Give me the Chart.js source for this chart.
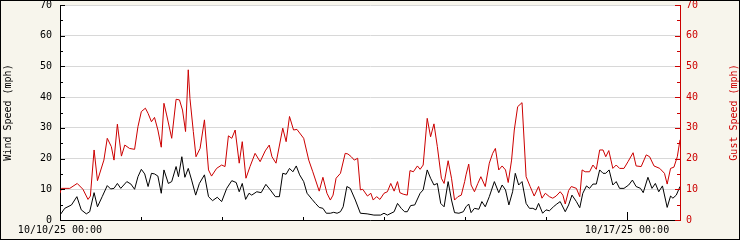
<!DOCTYPE html>
<html>
<head>
<meta charset="utf-8">
<script src="https://cdn.jsdelivr.net/npm/chart.js@4.4.0/dist/chart.umd.min.js"></script>
<style>
  html, body { margin: 0; padding: 0; background: #f7f5ec; }
</style>
</head>
<body>
<canvas id="myChart" width="740" height="240"></canvas>
<script>
// hours since 10/10/25 00:00
const windHours = [0, 1.4, 3.4, 5.0, 6.3, 7.8, 8.8, 10.1, 11.1, 12.5, 14.0, 15.0, 16.0, 17.0, 18.0, 19.8, 21.0, 22.1, 23.1, 24.1,
  25.1, 26.1, 27.1, 28.0, 29.0, 30.0, 30.8, 32.1, 33.1, 34.4, 35.1, 36.1, 37.0, 38.0, 39.0, 40.2, 41.3, 42.8, 44.0, 45.2,
  46.6, 47.9, 49.4, 50.9, 52.2, 53.1, 54.0, 55.0, 56.0, 56.8, 58.3, 59.6, 61.0, 62.3, 63.8, 65.0, 66.0, 67.0, 68.0, 69.0,
  70.0, 71.0, 72.2, 73.2, 74.7, 75.7, 76.8, 77.9, 78.9, 80.1, 81.1, 82.1, 83.1, 83.9, 85.0, 86.0, 87.5, 89.0, 91.0, 93.0,
  95.0, 96.0, 97.0, 99.0, 100.0, 101.1, 102.1, 102.9, 103.9, 105.1, 106.7, 107.6, 108.8, 109.8, 110.8, 111.8, 112.8, 113.8, 115.0, 116.0,
  116.9, 118.2, 119.5, 120.3, 121.1, 121.8, 122.8, 124.1, 125.0, 126.0, 127.2, 128.7, 130.0, 131.0, 132.0, 133.0, 134.1, 134.9, 135.9, 136.9,
  138.1, 139.1, 140.1, 141.0, 141.8, 143.0, 144.0, 145.0, 146.2, 147.2, 148.2, 149.7, 150.7, 151.7, 153.0, 154.0, 154.9, 156.0, 156.9, 157.9,
  158.9, 159.9, 160.9, 161.7, 162.7, 163.8, 164.8, 165.8, 167.1, 168.5, 169.6, 170.7, 172.0, 172.8, 174.2, 175.4, 176.4, 177.4, 178.5, 179.9,
  180.9, 181.6, 182.6, 183.7];
const windSpeed = [1.6, 3.8, 4.9, 7.6, 3.3, 2.0, 2.7, 8.9, 4.3, 7.6, 11.2, 10.1, 10.3, 11.9, 10.3, 12.5, 11.7, 10.0, 14.1, 16.5,
  15.0, 10.9, 15.2, 15.0, 14.3, 8.7, 16.3, 11.9, 12.5, 17.4, 14.1, 20.6, 13.9, 16.8, 13.0, 8.1, 11.9, 14.7, 7.6, 6.3,
  7.4, 6.0, 10.3, 12.8, 12.2, 9.2, 11.9, 6.7, 8.7, 8.1, 9.2, 8.9, 11.6, 9.8, 7.6, 7.6, 15.2, 14.9, 16.8, 15.7,
  17.6, 14.7, 12.5, 8.7, 6.7, 5.4, 4.1, 3.8, 2.2, 2.2, 2.5, 2.2, 2.7, 4.3, 10.9, 10.3, 6.5, 2.2, 2.0, 1.6,
  1.6, 2.2, 1.6, 2.7, 5.4, 3.8, 2.7, 2.7, 4.7, 4.9, 8.7, 9.8, 16.3, 13.6, 11.4, 11.9, 5.4, 4.3, 12.5, 6.5,
  2.4, 2.2, 2.7, 4.3, 5.2, 2.4, 3.8, 3.5, 6.0, 4.3, 7.6, 12.5, 8.9, 11.4, 9.8, 4.9, 9.2, 15.2, 11.4, 12.5,
  5.4, 3.8, 3.8, 3.3, 5.4, 2.2, 3.3, 3.0, 4.3, 5.2, 6.0, 2.7, 4.9, 8.1, 6.0, 4.0, 8.7, 11.1, 10.3, 11.7,
  11.7, 16.3, 15.2, 15.2, 16.3, 11.4, 12.5, 10.3, 10.3, 11.4, 13.0, 10.9, 10.3, 8.9, 13.9, 10.3, 11.9, 9.2, 11.1, 4.1,
  7.8, 7.1, 8.1, 10.9];

const gustHours = [0, 0.4, 2.9, 5.1, 6.8, 8.3, 9.0, 10.1, 11.1, 13.0, 14.0, 15.2, 16.0, 17.0, 18.2, 19.2, 20.6, 22.1, 23.1, 24.1,
  25.3, 26.1, 27.1, 28.0, 29.0, 30.0, 30.8, 31.6, 33.1, 34.4, 35.4, 36.3, 37.2, 38.0, 38.5, 39.5, 40.3, 41.5, 42.8, 44.0,
  44.9, 46.4, 47.9, 48.9, 49.9, 50.9, 51.9, 53.1, 54.0, 55.1, 56.3, 57.8, 59.3, 60.8, 62.0, 62.8, 64.0, 66.0, 67.0, 68.0,
  69.2, 70.2, 72.2, 73.7, 74.9, 76.8, 77.9, 79.1, 80.1, 80.9, 81.8, 83.1, 84.5, 85.3, 86.3, 87.2, 88.2, 89.0, 89.7, 91.1,
  92.1, 92.8, 93.8, 94.8, 96.0, 97.0, 98.0, 99.0, 100.0, 100.7, 101.7, 102.9, 103.7, 104.7, 105.9, 106.7, 107.6, 108.8, 109.8, 110.8,
  111.8, 113.0, 113.8, 115.0, 116.0, 116.9, 117.9, 118.9, 119.9, 120.3, 121.1, 121.8, 122.8, 123.8, 124.7, 126.0, 127.2, 128.2, 129.0, 130.0,
  131.0, 132.0, 132.8, 133.8, 134.6, 135.6, 136.9, 138.1, 139.3, 140.5, 141.8, 142.8, 143.8, 145.0, 146.0, 147.0, 148.2, 149.0, 149.7, 150.7,
  151.5, 153.0, 154.0, 154.7, 155.6, 156.9, 157.9, 158.9, 159.9, 160.9, 161.7, 162.6, 163.8, 164.8, 165.8, 167.1, 168.3, 169.8, 170.7, 172.2,
  173.7, 174.7, 176.0, 177.7, 179.1, 179.9, 180.9, 181.9, 182.9, 183.7];
const gustSpeed = [8.7, 10.3, 10.3, 11.9, 10.0, 6.7, 7.8, 22.8, 12.8, 19.5, 26.6, 23.9, 19.5, 31.2, 20.8, 24.4, 23.3, 23.0, 30.4, 35.3,
  36.4, 34.7, 32.0, 33.4, 29.3, 23.7, 38.0, 34.2, 26.6, 39.3, 39.1, 35.8, 28.8, 48.9, 39.6, 28.8, 20.6, 23.3, 32.6, 16.3,
  14.3, 16.8, 17.9, 17.4, 27.4, 26.6, 29.3, 18.5, 25.5, 13.6, 17.4, 21.7, 19.0, 22.5, 24.4, 20.6, 18.5, 29.9, 25.5, 33.7,
  29.3, 29.5, 26.6, 19.5, 15.7, 9.4, 13.9, 8.7, 6.5, 8.1, 13.6, 15.2, 21.7, 21.5, 20.6, 19.5, 20.1, 9.8, 10.0, 7.8,
  8.7, 6.5, 7.6, 6.7, 8.7, 9.2, 11.9, 9.4, 12.5, 8.9, 8.4, 8.1, 16.1, 15.7, 17.6, 16.5, 17.9, 33.1, 27.1, 31.3,
  23.9, 13.6, 11.9, 19.3, 13.6, 6.5, 7.6, 8.1, 12.5, 14.7, 18.2, 11.4, 9.2, 11.9, 14.1, 10.9, 18.5, 21.7, 23.3, 16.3,
  17.6, 16.3, 12.2, 19.5, 29.3, 36.9, 38.2, 14.1, 10.9, 7.8, 10.9, 7.1, 8.7, 7.6, 7.1, 7.8, 9.2, 8.1, 5.2, 9.6,
  10.9, 10.3, 7.6, 16.3, 15.7, 15.7, 17.9, 16.5, 22.8, 22.8, 20.6, 22.6, 16.8, 17.9, 16.8, 16.8, 19.0, 21.9, 17.6, 17.4,
  21.2, 20.6, 17.6, 16.8, 15.2, 11.7, 16.8, 17.2, 20.6, 26.1];

const dayTicks = [0, 24, 48, 72, 96, 120, 144, 168];
const labeledHours = [0, 168];
const labeledTexts = ['10/10/25 00:00', '10/17/25 00:00'];
const xMax = 183.7;

const RED = '#cc0000';
const FONT = 'DejaVu Sans Mono';

function toPoints(xs, ys) {
    return xs.map((x, i) => ({x: x, y: ys[i]}));
}

function noPad(scale) {
    scale.paddingTop = 0;
    scale.paddingBottom = 0;
    scale.paddingLeft = 0;
    scale.paddingRight = 0;
}

const frame = {
    id: 'frame',
    beforeDraw(chart) {
        const {ctx, chartArea: a} = chart;
        ctx.save();
        ctx.fillStyle = '#f7f5ec';
        ctx.fillRect(0, 0, chart.width, chart.height);
        ctx.fillStyle = '#ffffff';
        ctx.fillRect(a.left, a.top, a.right - a.left, a.bottom - a.top);
        ctx.restore();
    },
    afterDraw(chart) {
        const {ctx, chartArea: a, scales} = chart;
        ctx.save();
        ctx.lineWidth = 1;
        // inner ticks on y axes
        for (let v = 0; v <= 70; v += 5) {
            const len = v % 10 === 0 ? 5 : 3;
            const yl = Math.round(scales.y.getPixelForValue(v)) + 0.5;
            ctx.strokeStyle = '#000';
            ctx.beginPath(); ctx.moveTo(a.left, yl); ctx.lineTo(a.left + len, yl); ctx.stroke();
            const yr = Math.round(scales.y2.getPixelForValue(v)) + 0.5;
            ctx.strokeStyle = RED;
            ctx.beginPath(); ctx.moveTo(a.right, yr); ctx.lineTo(a.right - len, yr); ctx.stroke();
        }
        // day ticks on x axis
        ctx.strokeStyle = '#000';
        dayTicks.forEach(h => {
            const len = labeledHours.includes(h) ? 8 : 3;
            const x = Math.round(scales.x.getPixelForValue(h)) + 0.5;
            ctx.beginPath(); ctx.moveTo(x, a.bottom); ctx.lineTo(x, a.bottom - len); ctx.stroke();
        });
        // axis titles
        ctx.font = '10px "' + FONT + '"';
        ctx.textAlign = 'center';
        ctx.textBaseline = 'middle';
        const cy = (a.top + a.bottom) / 2;
        ctx.fillStyle = '#000';
        ctx.save(); ctx.translate(8, cy); ctx.rotate(-Math.PI / 2); ctx.fillText('Wind Speed (mph)', 0, 0); ctx.restore();
        ctx.fillStyle = RED;
        ctx.save(); ctx.translate(734, cy); ctx.rotate(-Math.PI / 2); ctx.fillText('Gust Speed (mph)', 0, 0); ctx.restore();
        // outer border
        ctx.strokeStyle = '#000';
        ctx.strokeRect(0.5, 0.5, chart.width - 1, chart.height - 1);
        ctx.restore();
    }
};

const ctx = document.getElementById('myChart').getContext('2d');
const windChart = new Chart(ctx, {
    type: 'line',
    data: {
        datasets: [{
            label: 'Wind Speed',
            data: toPoints(windHours, windSpeed),
            borderColor: '#000000',
            borderWidth: 1,
            pointRadius: 0,
            tension: 0,
            yAxisID: 'y'
        }, {
            label: 'Gust Speed',
            data: toPoints(gustHours, gustSpeed),
            borderColor: RED,
            borderWidth: 1,
            pointRadius: 0,
            tension: 0,
            yAxisID: 'y2'
        }]
    },
    options: {
        responsive: false,
        animation: false,
        layout: { padding: { top: 5, left: 0, right: 0, bottom: 0 } },
        plugins: { legend: { display: false }, tooltip: { enabled: false } },
        scales: {
            x: {
                type: 'linear',
                min: 0,
                max: xMax,
                afterBuildTicks(scale) { scale.ticks = dayTicks.map(v => ({value: v})); },
                afterFit(scale) { scale.height = 20; noPad(scale); },
                grid: { drawOnChartArea: false, drawTicks: false, color: 'rgba(0,0,0,0)' },
                border: { color: '#000', width: 1 },
                ticks: {
                    autoSkip: false,
                    maxRotation: 0,
                    padding: 4,
                    color: '#000',
                    font: { family: FONT, size: 10 },
                    callback(v) {
                        const i = labeledHours.indexOf(v);
                        return i >= 0 ? labeledTexts[i] : '';
                    }
                }
            },
            y: {
                position: 'left',
                min: 0,
                max: 70,
                afterFit(scale) { scale.width = 60; noPad(scale); },
                grid: { color: '#d8d8d8', drawTicks: false },
                border: { color: '#000', width: 1 },
                ticks: { stepSize: 10, padding: 8, color: '#000', font: { family: FONT, size: 10 } }
            },
            y2: {
                position: 'right',
                min: 0,
                max: 70,
                afterFit(scale) { scale.width = 60; noPad(scale); },
                grid: { drawOnChartArea: false, drawTicks: false },
                border: { color: RED, width: 1 },
                ticks: { stepSize: 10, padding: 6, color: RED, font: { family: FONT, size: 10 } }
            }
        }
    },
    plugins: [frame]
});
</script>
</body>
</html>
